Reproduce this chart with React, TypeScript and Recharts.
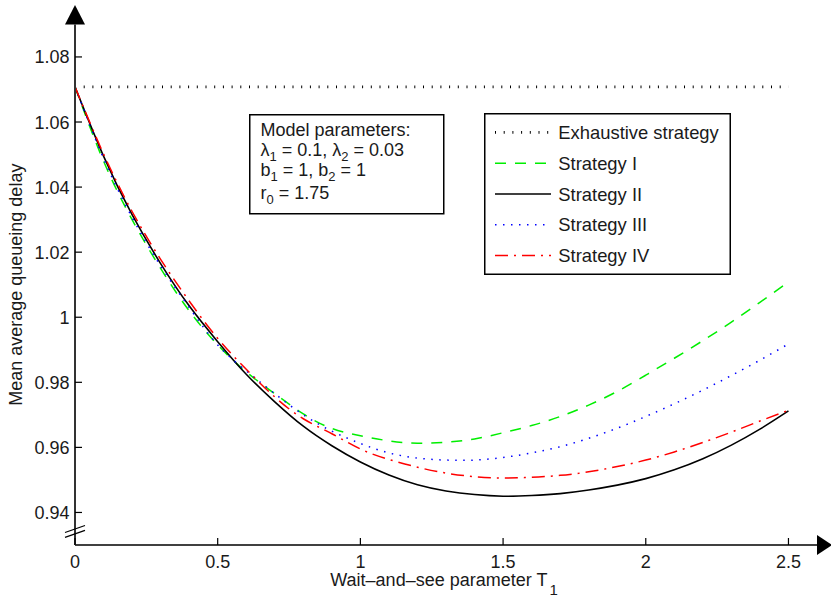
import React from "react";
import { LineChart, Line, XAxis, YAxis, ReferenceDot, Legend } from "recharts";

// wait-and-see parameter T1
const T1 = [
  0, 0.1, 0.2, 0.3, 0.4, 0.5, 0.6, 0.7, 0.8, 0.9, 1.0, 1.1, 1.2,
  1.3, 1.4, 1.5, 1.6, 1.7, 1.8, 1.9, 2.0, 2.1, 2.2, 2.3, 2.4, 2.5,
];

// mean average queueing delay
const STRATEGY_I = [
  1.0708, 1.048, 1.03, 1.015, 1.002, 0.9915, 0.9832, 0.9765, 0.9703, 0.9658, 0.9636, 0.962, 0.9613,
  0.9616, 0.9626, 0.9645, 0.9667, 0.9695, 0.973, 0.9772, 0.9822, 0.9874, 0.9928, 0.9985, 1.0046, 1.0108,
];
const STRATEGY_II = [
  1.0708, 1.0495, 1.0315, 1.0165, 1.0035, 0.9925, 0.9825, 0.974, 0.9665, 0.9605, 0.9555, 0.9515, 0.9485,
  0.9466, 0.9455, 0.945, 0.9452, 0.9458, 0.9469, 0.9484, 0.9504, 0.9531, 0.9565, 0.9607, 0.9656, 0.9712,
];
const STRATEGY_III = [
  1.0708, 1.0488, 1.0307, 1.0158, 1.003, 0.9915, 0.9835, 0.9765, 0.97, 0.965, 0.9612, 0.9583, 0.9567,
  0.9561, 0.9561, 0.9569, 0.9583, 0.9602, 0.9628, 0.9659, 0.9695, 0.9734, 0.9776, 0.9821, 0.9868, 0.9918,
];
const STRATEGY_IV = [
  1.0708, 1.0502, 1.0325, 1.0178, 1.005, 0.9935, 0.984, 0.9755, 0.9688, 0.9642, 0.9595, 0.9563, 0.9539,
  0.9521, 0.951, 0.9506, 0.9508, 0.9514, 0.9525, 0.9541, 0.9561, 0.9586, 0.9615, 0.9647, 0.9681, 0.9714,
];
const EXHAUSTIVE_T = [0, 2.5];
const EXHAUSTIVE = [1.0708, 1.0708];

const X_TICKS = [0, 0.5, 1, 1.5, 2, 2.5];
const Y_TICKS = [0.94, 0.96, 0.98, 1, 1.02, 1.04, 1.06, 1.08];
const X_DOMAIN = [0, 2.6];
const Y_DOMAIN = [0.93, 1.09];
const Y_BREAK = 0.9342;

const data = T1.map((t, i) => ({
  t,
  s1: STRATEGY_I[i],
  s2: STRATEGY_II[i],
  s3: STRATEGY_III[i],
  s4: STRATEGY_IV[i],
}));
const exhData = EXHAUSTIVE_T.map((t, i) => ({ t, ex: EXHAUSTIVE[i] }));

const SERIES = [
  { key: "ex", name: "Exhaustive strategy", color: "#000", width: 2.6, dash: "1 7.7" },
  { key: "s1", name: "Strategy I", color: "#00ee00", width: 1.5, dash: "11 9" },
  { key: "s2", name: "Strategy II", color: "#000", width: 1.6, dash: undefined },
  { key: "s3", name: "Strategy III", color: "#0000ff", width: 1.5, dash: "1.5 6.5" },
  { key: "s4", name: "Strategy IV", color: "#ff0000", width: 1.5, dash: "13 6 2 6" },
];

const FONT = '"Liberation Sans", Arial, Helvetica, sans-serif';
const TXT = "#1a1a1a";

const fmt = (v: number) => String(+v.toFixed(2));

const YTick = (props: any) => {
  const { x, y, payload } = props;
  return (
    <g>
      <line x1={x} y1={y} x2={x + 7} y2={y} stroke="#000" strokeWidth={1.2} />
      <text x={x - 5.5} y={y + 6.5} textAnchor="end" fontSize={18} fill={TXT}>
        {fmt(payload.value)}
      </text>
    </g>
  );
};

const XTick = (props: any) => {
  const { x, y, payload } = props;
  return (
    <g>
      <line x1={x} y1={y} x2={x} y2={y - 7} stroke="#000" strokeWidth={1.2} />
      <text x={x} y={y + 22.5} textAnchor="middle" fontSize={18} fill={TXT}>
        {fmt(payload.value)}
      </text>
    </g>
  );
};

const xLabel = (props: any) => {
  const vb = props.viewBox;
  return (
    <text x={vb.x + vb.width / 2 - 2} y={vb.y + 40.7} textAnchor="middle" fontSize={18} fill={TXT}>
      Wait–and–see parameter T
      <tspan fontSize={15} dx={2} dy={9.5}>1</tspan>
    </text>
  );
};

const yLabel = (props: any) => {
  const vb = props.viewBox;
  const x = vb.x + 6.7;
  const y = vb.y + vb.height / 2;
  return (
    <text x={x} y={y} transform={`rotate(-90, ${x}, ${y})`} textAnchor="middle" fontSize={18} fill={TXT}>
      Mean average queueing delay
    </text>
  );
};

const upArrow = (p: any) => (
  <polygon points={`${p.cx},${p.cy - 19.5} ${p.cx - 10},${p.cy} ${p.cx + 10},${p.cy}`} fill="#000" />
);
const rightArrow = (p: any) => (
  <polygon points={`${p.cx + 15},${p.cy} ${p.cx},${p.cy - 10} ${p.cx},${p.cy + 10}`} fill="#000" />
);
const axisBreak = (p: any) => (
  <g stroke="#000" strokeWidth={1.2}>
    <line x1={p.cx - 10} y1={p.cy + 1.2} x2={p.cx + 10} y2={p.cy - 5.8} />
    <line x1={p.cx - 10} y1={p.cy + 6} x2={p.cx + 10} y2={p.cy - 1} />
  </g>
);

const LegendBox = () => (
  <svg width={247} height={162} style={{ display: "block" }}>
    <rect x={0.75} y={0.75} width={245.5} height={160.5} fill="#fff" stroke="#000" strokeWidth={1.5} />
    {SERIES.map((s, i) => {
      const cy = 19.4 + i * 30.8;
      return (
        <g key={s.key}>
          <line x1={11} y1={cy} x2={67} y2={cy} stroke={s.color} strokeWidth={s.width} strokeDasharray={s.dash} />
          <text x={74.3} y={cy + 6.6} fontSize={18.4} fill={TXT} fontFamily={FONT}>
            {s.name}
          </text>
        </g>
      );
    })}
  </svg>
);

const ParamsBox = () => (
  <svg
    width={196}
    height={101}
    style={{ position: "absolute", left: 248.5, top: 113.5, fontFamily: FONT }}
  >
    <rect x={0.75} y={0.75} width={194} height={99} fill="#fff" stroke="#000" strokeWidth={1.5} />
    <text fontSize={18} fill={TXT}>
      <tspan x={11.5} y={22}>Model parameters:</tspan>
      <tspan x={11.5} y={41.5}>λ</tspan>
      <tspan fontSize={13} dy={5.5}>1</tspan>
      <tspan dy={-5.5}> = 0.1, λ</tspan>
      <tspan fontSize={13} dy={5.5}>2</tspan>
      <tspan dy={-5.5}> = 0.03</tspan>
      <tspan x={11.5} y={61.5}>b</tspan>
      <tspan fontSize={13} dy={5.5}>1</tspan>
      <tspan dy={-5.5}> = 1, b</tspan>
      <tspan fontSize={13} dy={5.5}>2</tspan>
      <tspan dy={-5.5}> = 1</tspan>
      <tspan x={11.5} y={84.5}>r</tspan>
      <tspan fontSize={13} dy={5.5}>0</tspan>
      <tspan dy={-5.5}> = 1.75</tspan>
    </text>
  </svg>
);

export default function App() {
  return (
    <div
      style={{
        position: "absolute",
        left: 0,
        top: 0,
        width: 831,
        height: 599,
        background: "#fff",
        fontFamily: FONT,
      }}
    >
      <LineChart
        width={831}
        height={599}
        data={data}
        margin={{ top: 24.4, right: 14, bottom: 14, left: 15 }}
        style={{ fontFamily: FONT }}
      >
        <XAxis
          dataKey="t"
          type="number"
          domain={X_DOMAIN}
          ticks={X_TICKS}
          height={40}
          tickSize={0}
          tickMargin={0}
          tickLine={false}
          tick={<XTick />}
          axisLine={{ stroke: "#000", strokeWidth: 1.6 }}
          label={xLabel}
          allowDataOverflow
        />
        <YAxis
          type="number"
          domain={Y_DOMAIN}
          ticks={Y_TICKS}
          width={60}
          tickSize={0}
          tickMargin={0}
          tickLine={false}
          tick={<YTick />}
          axisLine={{ stroke: "#333", strokeWidth: 2 }}
          label={yLabel}
          allowDataOverflow
        />
        <Legend
          layout="vertical"
          align="center"
          verticalAlign="middle"
          wrapperStyle={{ left: 484, top: 113, width: 247, height: 162 }}
          content={() => <LegendBox />}
        />
        <Line
          data={exhData}
          dataKey="ex"
          name="Exhaustive strategy"
          stroke={SERIES[0].color}
          strokeWidth={SERIES[0].width}
          strokeDasharray={SERIES[0].dash}
          dot={false}
          isAnimationActive={false}
        />
        {SERIES.slice(1).map((s) => (
          <Line
            key={s.key}
            type="natural"
            dataKey={s.key}
            name={s.name}
            stroke={s.color}
            strokeWidth={s.width}
            strokeDasharray={s.dash}
            dot={false}
            isAnimationActive={false}
          />
        ))}
        <ReferenceDot x={0} y={Y_DOMAIN[1]} ifOverflow="visible" shape={upArrow} />
        <ReferenceDot x={X_DOMAIN[1]} y={Y_DOMAIN[0]} ifOverflow="visible" shape={rightArrow} />
        <ReferenceDot x={0} y={Y_BREAK} ifOverflow="visible" shape={axisBreak} />
      </LineChart>
      <ParamsBox />
    </div>
  );
}
